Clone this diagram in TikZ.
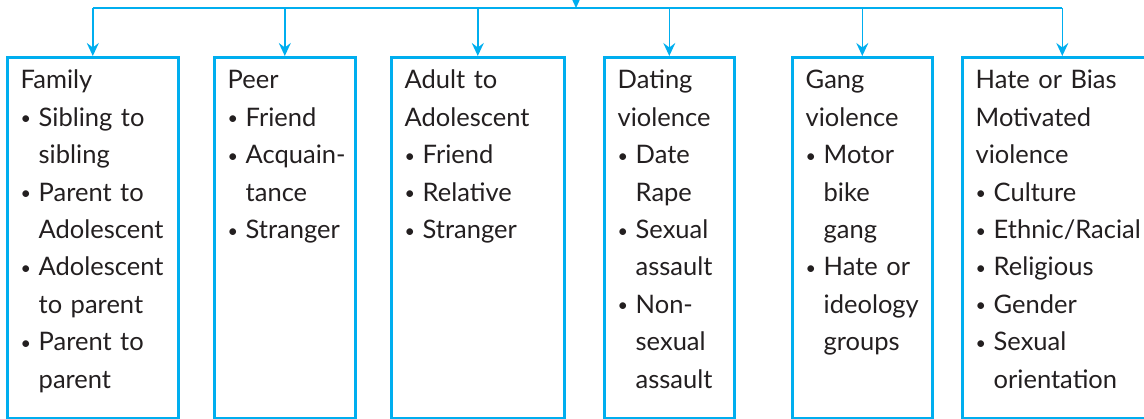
\documentclass[tikz,border=0pt]{standalone}
\usepackage{fontspec}
\setmainfont{Lato}
\usetikzlibrary{arrows.meta}
\definecolor{vblue}{RGB}{0,174,239}
\definecolor{vtext}{RGB}{35,31,32}
\newcommand{\bul}{\makebox[18pt][l]{\raisebox{1.5pt}{\fontsize{18}{18}\selectfont\textbullet}}}
\newcommand{\ind}{\hspace*{18pt}}
\tikzset{
	catbox/.style={draw=vblue, line width=2.6pt, inner sep=0pt, minimum height=361pt, anchor=north west},
	cattext/.style={anchor=base west, inner sep=0pt, text width=200pt, align=left, text=vtext, font=\fontsize{25.5}{37.4}\selectfont},
	link/.style={vblue, line width=1.6pt},
	feed/.style={link, -{Stealth[length=13pt,width=12pt,inset=4.5pt]}}
}
\begin{document}
\begin{tikzpicture}[x=1pt,y=1pt]
	\useasboundingbox (0,0) rectangle (1144,419);
	\clip (0,0) rectangle (1144,419);
	\node[catbox, minimum width=171pt] (family) at (6,363) {};
	\node[catbox, minimum width=141pt] (peer) at (213,363) {};
	\node[catbox, minimum width=173pt] (adult) at (390,363) {};
	\node[catbox, minimum width=130pt] (dating) at (603,363) {};
	\node[catbox, minimum width=140pt] (gang) at (791,363) {};
	\node[catbox, minimum width=200pt] (hate) at (961,363) {};
	\node[cattext] (familytxt) at ([shift={(14.5,-33)}]family.north west) {Family\\ \bul Sibling to\\ \ind sibling\\ \bul Parent to\\ \ind Adolescent\\ \bul Adolescent\\ \ind to parent\\ \bul Parent to\\ \ind parent};
	\node[cattext] (peertxt) at ([shift={(14.5,-33)}]peer.north west) {Peer\\ \bul Friend\\ \bul Acquain-\\ \ind tance\\ \bul Stranger};
	\node[cattext] (adulttxt) at ([shift={(14.5,-33)}]adult.north west) {Adult to\\ Adolescent\\ \bul Friend\\ \bul Relative\\ \bul Stranger};
	\node[cattext] (datingtxt) at ([shift={(14.5,-33)}]dating.north west) {Dating\\ violence\\ \bul Date\\ \ind Rape\\ \bul Sexual\\ \ind assault\\ \bul Non-\\ \ind sexual\\ \ind assault};
	\node[cattext] (gangtxt) at ([shift={(14.5,-33)}]gang.north west) {Gang\\ violence\\ \bul Motor\\ \ind bike\\ \ind gang\\ \bul Hate or\\ \ind ideology\\ \ind groups};
	\node[cattext] (hatetxt) at ([shift={(14.5,-33)}]hate.north west) {Hate or Bias\\ Motivated\\ violence\\ \bul Culture\\ \bul Ethnic/Racial\\ \bul Religious\\ \bul Gender\\ \bul Sexual\\ \ind orientation};
	\coordinate (top) at (576,440);
	\coordinate (split) at (576,411);
	\draw[feed] (top) -- (split);
	\draw[link] (family.north |- split) -- (hate.north |- split);
	\foreach \b in {family,peer,adult,dating,gang,hate}
		\draw[feed] (\b.north |- split) -- (\b.north);
\end{tikzpicture}
\end{document}
